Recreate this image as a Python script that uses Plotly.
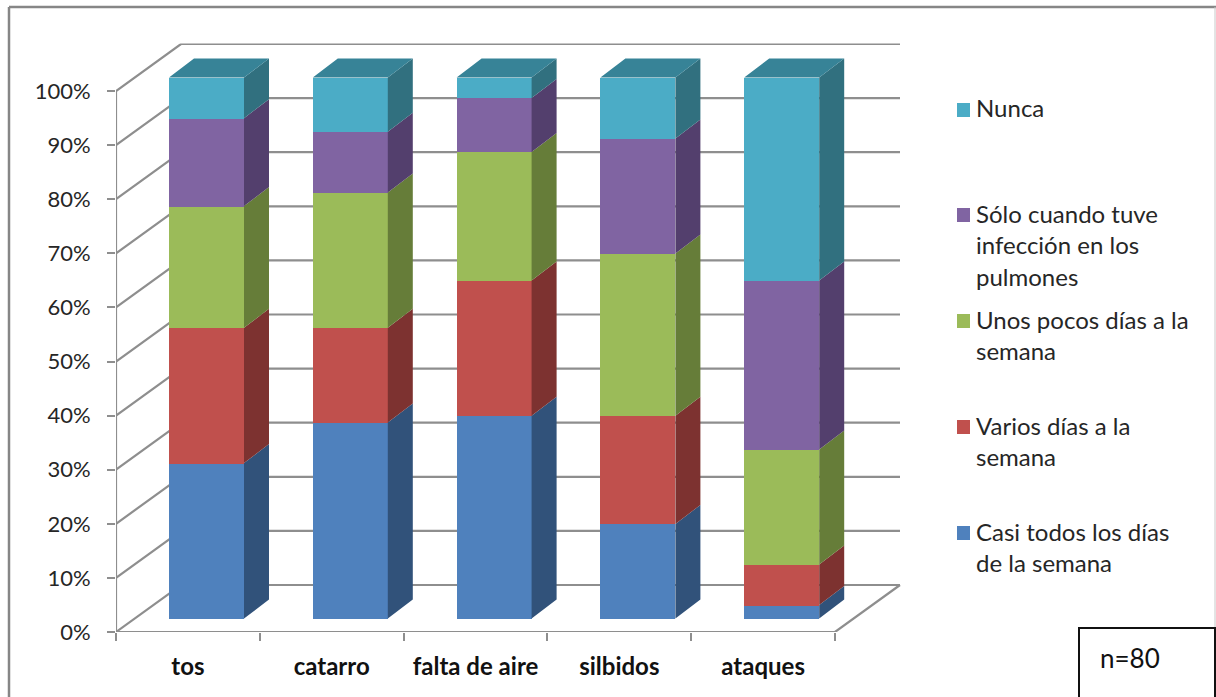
import plotly.graph_objects as go

# Symptom frequency by category, percent of respondents (n=80)
categories = ["tos", "catarro", "falta de aire", "silbidos", "ataques"]
casi_todos = [28.75, 36.25, 37.5, 17.5, 2.5]
varios = [25, 17.5, 25, 20, 7.5]
unos_pocos = [22.5, 25, 23.75, 30, 21.25]
solo_infeccion = [16.25, 11.25, 10, 21.25, 31.25]
nunca = [7.5, 10, 3.75, 11.25, 37.5]

series_names = [
    "Casi todos los días de la semana",
    "Varios días a la semana",
    "Unos pocos días a la semana",
    "Sólo cuando tuve infección en los pulmones",
    "Nunca",
]
series_values = [casi_todos, varios, unos_pocos, solo_infeccion, nunca]
front_colors = ["#4F81BD", "#C0504D", "#9BBB59", "#8064A2", "#4BACC6"]
side_colors = ["#31527A", "#7D3230", "#667D39", "#533F6D", "#31707F"]
top_color = "#378397"

y_ticks = list(range(0, 101, 10))
legend_rows = [
    (110, 4, ["Nunca"]),
    (215, 3, ["Sólo cuando tuve", "infección en los", "pulmones"]),
    (321, 2, ["Unos pocos días a la", "semana"]),
    (427, 1, ["Varios días a la", "semana"]),
    (533, 0, ["Casi todos los días", "de la semana"]),
]

W, H = 1216, 697
FONT = "Lato, Carlito, Calibri, sans-serif"
GRID = "#8E8E8E"

# Oblique projection scale: pixels per category and per percentage point
PX_CAT = 143.8
PX_PCT = 5.41
AX_LEFT, AX_RIGHT = 116, 901
AX_BOTTOM, AX_TOP = 632, 43.5

wall_dx, wall_dy = 65 / PX_CAT, 47 / PX_PCT
bar_dx, bar_dy = 25 / PX_CAT, 19 / PX_PCT
bar_width = 75 / PX_CAT
bar_centre = 90.5 / PX_CAT
bar_lift = 13.4 / PX_PCT
n_cat = len(categories)

y_top = (AX_BOTTOM - AX_TOP) / PX_PCT


def px(x):
    return x / W


def py(y):
    return 1 - y / H


fig = go.Figure()


def wall_line(xs, ys, width=2.2):
    fig.add_trace(go.Scatter(x=xs, y=ys, mode="lines", showlegend=False, hoverinfo="skip",
                             line=dict(color=GRID, width=width), yaxis="y"))


# Back wall grid: each level runs up the side wall and then along the back
for v in y_ticks:
    wall_line([0, wall_dx, n_cat + wall_dx], [v, v + wall_dy, v + wall_dy])

# Vertical axis, front floor edge and right floor edge
wall_line([0, 0], [0, 100])
wall_line([0, n_cat, n_cat + wall_dx], [0, 0, wall_dy])

x_pos = [i + bar_centre for i in range(n_cat)]

# Front faces of the stacked columns
for name, vals, col in zip(series_names, series_values, front_colors):
    fig.add_trace(go.Bar(x=x_pos, y=vals, name=name, width=bar_width, showlegend=False,
                         marker=dict(color=col, line=dict(width=0)), yaxis="y2"))

# Side faces, sheared back from each stacked segment
bases = [0.0] * n_cat
for vals, col in zip(series_values, side_colors):
    xs, ys = [], []
    for i, v in enumerate(vals):
        x1 = x_pos[i] + bar_width / 2
        b, t = bases[i], bases[i] + v
        xs += [x1, x1 + bar_dx, x1 + bar_dx, x1, x1, None]
        ys += [b, b + bar_dy, t + bar_dy, t, b, None]
        bases[i] = t
    fig.add_trace(go.Scatter(x=xs, y=ys, mode="lines", fill="toself", fillcolor=col,
                             line=dict(width=0, color=col), showlegend=False,
                             hoverinfo="skip", yaxis="y2"))

# Top caps of the columns
xs, ys = [], []
for i in range(n_cat):
    x0, x1 = x_pos[i] - bar_width / 2, x_pos[i] + bar_width / 2
    t = bases[i]
    xs += [x0, x0 + bar_dx, x1 + bar_dx, x1, x0, None]
    ys += [t, t + bar_dy, t + bar_dy, t, t, None]
fig.add_trace(go.Scatter(x=xs, y=ys, mode="lines", fill="toself", fillcolor=top_color,
                         line=dict(width=0, color=top_color), showlegend=False,
                         hoverinfo="skip", yaxis="y2"))

shapes = [
    # Chart frame
    dict(type="line", xref="paper", yref="paper", x0=px(9), x1=px(9), y0=py(7), y1=py(697),
         line=dict(color="#868686", width=2.5)),
    dict(type="line", xref="paper", yref="paper", x0=px(9), x1=px(1216), y0=py(7), y1=py(7),
         line=dict(color="#868686", width=2.5)),
    dict(type="line", xref="paper", yref="paper", x0=px(1215), x1=px(1215), y0=py(7), y1=py(628),
         line=dict(color="#C8C8C8", width=1)),
    # Sample size box
    dict(type="rect", xref="paper", yref="paper", x0=px(1079), x1=px(1215), y0=py(628), y1=py(699),
         fillcolor="white", line=dict(color="#111111", width=2)),
]

annotations = [
    dict(text="n=80", xref="paper", yref="paper", x=px(1098), y=py(658), xanchor="left",
         yanchor="middle", showarrow=False, font=dict(family=FONT, size=26, color="#111111")),
]

# Hand-spaced key: one swatch per series, one text line per row
LINE_STEP = 31.5
for top_y, idx, lines in legend_rows:
    shapes.append(dict(type="rect", xref="paper", yref="paper", x0=px(957), x1=px(970),
                       y0=py(top_y - 7), y1=py(top_y + 7), fillcolor=front_colors[idx],
                       line=dict(width=0)))
    for k, line in enumerate(lines):
        annotations.append(dict(text=line, xref="paper", yref="paper", x=px(974),
                                y=py(top_y - 2 + k * LINE_STEP), xanchor="left", yanchor="middle",
                                showarrow=False, font=dict(family=FONT, size=24, color="#262626")))

fig.update_layout(
    width=W, height=H, margin=dict(l=0, r=0, t=0, b=0, autoexpand=False),
    paper_bgcolor="white", plot_bgcolor="rgba(0,0,0,0)",
    barmode="stack", bargap=0, showlegend=False,
    shapes=shapes, annotations=annotations,
    xaxis=dict(
        domain=[px(AX_LEFT), px(AX_RIGHT)],
        range=[0, (AX_RIGHT - AX_LEFT) / PX_CAT],
        tickmode="array",
        tickvals=[i + 0.5 for i in range(n_cat)],
        ticktext=categories,
        ticks="", showgrid=False, zeroline=False, showline=False, automargin=False,
        ticklabelstandoff=18,
        tickfont=dict(family=FONT, size=24, color="#111111", weight="bold"),
        minor=dict(tickmode="array", tickvals=list(range(n_cat + 1)), ticks="outside",
                   ticklen=8, tickwidth=2, tickcolor=GRID, showgrid=False),
    ),
    yaxis=dict(
        domain=[py(AX_BOTTOM), py(AX_TOP)],
        range=[0, y_top],
        tickmode="array",
        tickvals=y_ticks,
        ticktext=[f"{v}%" for v in y_ticks],
        ticks="outside", ticklen=8, tickwidth=2, tickcolor=GRID,
        showgrid=False, zeroline=False, showline=False, automargin=False,
        ticklabelstandoff=12,
        tickfont=dict(family=FONT, size=22, color="#262626"),
    ),
    yaxis2=dict(
        domain=[py(AX_BOTTOM), py(AX_TOP)],
        range=[-bar_lift, y_top - bar_lift],
        overlaying="y", visible=False,
    ),
)

fig.write_html("out.html")
